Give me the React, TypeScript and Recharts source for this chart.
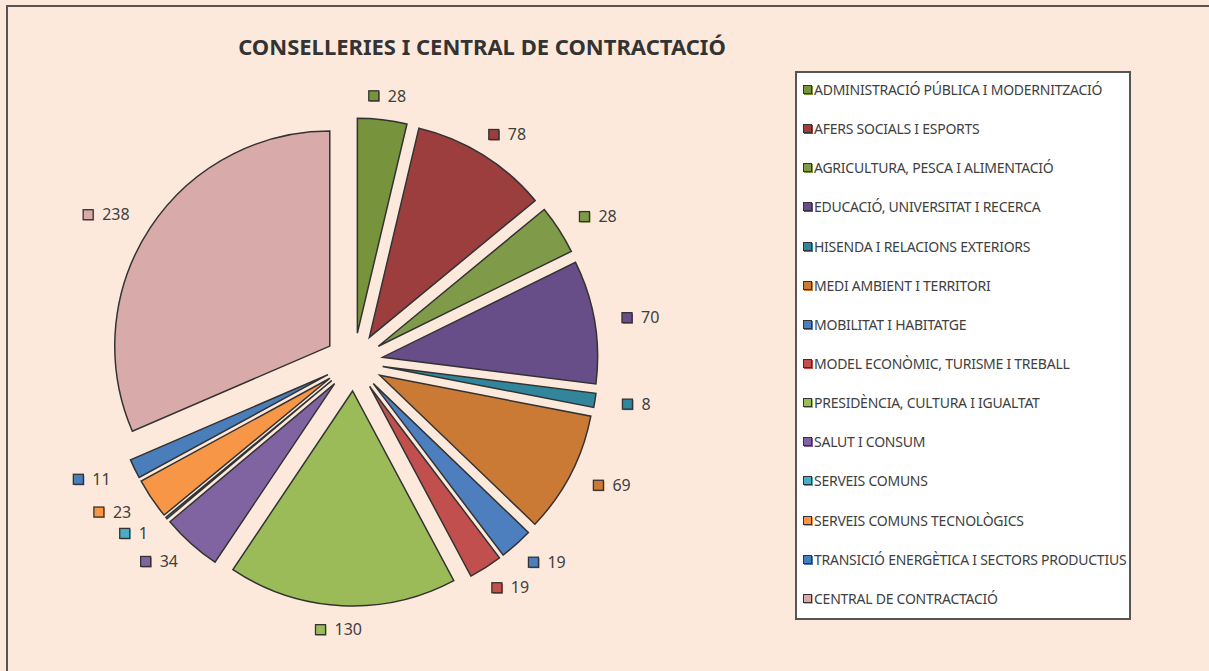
import { PieChart, Pie, Sector, Legend } from 'recharts';

const categories = [
  'ADMINISTRACIÓ PÚBLICA I MODERNITZACIÓ',
  'AFERS SOCIALS I ESPORTS',
  'AGRICULTURA, PESCA I ALIMENTACIÓ',
  'EDUCACIÓ, UNIVERSITAT I RECERCA',
  'HISENDA I RELACIONS EXTERIORS',
  'MEDI AMBIENT I TERRITORI',
  'MOBILITAT I HABITATGE',
  'MODEL ECONÒMIC, TURISME I TREBALL',
  'PRESIDÈNCIA, CULTURA I IGUALTAT',
  'SALUT I CONSUM',
  'SERVEIS COMUNS',
  'SERVEIS COMUNS TECNOLÒGICS',
  'TRANSICIÓ ENERGÈTICA I SECTORS PRODUCTIUS',
  'CENTRAL DE CONTRACTACIÓ',
];

const values = [28, 78, 28, 70, 8, 69, 19, 19, 130, 34, 1, 23, 11, 238];

const COLORS = [
  '#77933c', // administració
  '#9c3e3e', // afers socials
  '#7f9a48', // agricultura
  '#674e88', // educació
  '#32869c', // hisenda
  '#cb7a35', // medi ambient
  '#4d7fbf', // mobilitat
  '#c14f4d', // model econòmic
  '#9bbb59', // presidència
  '#8064a2', // salut
  '#4bacc6', // serveis comuns
  '#f79646', // serveis comuns tec.
  '#4a7ebb', // transició
  '#d9aaaa', // central
];

const data = categories.map((name, i) => ({ name, value: values[i] }));

const RAD = Math.PI / 180;
const EXPLODE = 29;
const TEXT = '#404040';
const FONT = '"Noto Sans", "Open Sans", sans-serif';

function ExplodedSector(props: any) {
  const { cx, cy, midAngle, index } = props;
  const dx = EXPLODE * Math.cos(midAngle * RAD);
  const dy = -EXPLODE * Math.sin(midAngle * RAD);
  return (
    <Sector
      {...props}
      cx={cx + dx}
      cy={cy + dy}
      fill={COLORS[index]}
      stroke="#333"
      strokeWidth={1.5}
    />
  );
}

function renderLabel(props: any) {
  const { cx, cy, midAngle, value, index } = props;
  const ux = Math.cos(midAngle * RAD);
  const uy = -Math.sin(midAngle * RAD);
  const px = cx + 272 * ux;
  const py = cy + 264 * uy;
  const textW = String(value).length * 9.5;
  const w = 10 + 9 + textW;
  const left = px - (w * (1 - ux)) / 2;
  const midY = py + uy * 4;
  return (
    <g key={`lbl-${index}`}>
      <rect x={left + 1} y={midY - 4} width={10} height={10} fill={COLORS[index]} />
      <rect x={left} y={midY - 5} width={10} height={10} fill={COLORS[index]} stroke="#333" strokeWidth={1.3} />
      <text x={left + 19} y={midY} dy="0.36em" fontSize={16} fill={TEXT} fontFamily={FONT}>
        {value}
      </text>
    </g>
  );
}

function LegendBox() {
  return (
    <div
      style={{
        width: 336,
        height: 549,
        background: '#fff',
        border: '2px solid #555',
        boxSizing: 'border-box',
        fontFamily: FONT,
        position: 'relative',
      }}
    >
      <div style={{ position: 'absolute', left: 0, top: -3 }}>
        {data.map((d, i) => (
          <div
            key={d.name}
            style={{ display: 'flex', alignItems: 'center', height: 39.15, paddingLeft: 6 }}
          >
            <span
              style={{
                width: 7,
                height: 7,
                background: COLORS[i],
                border: '1.3px solid #333',
                boxShadow: `1px 1px 0 ${COLORS[i]}`,
                marginRight: 2,
                flex: 'none',
              }}
            />
            <span style={{ fontSize: 14, color: TEXT, letterSpacing: -0.25, whiteSpace: 'nowrap' }}>
              {d.name}
            </span>
          </div>
        ))}
      </div>
    </div>
  );
}

export default function App() {
  return (
    <div
      style={{
        position: 'absolute',
        left: 0,
        top: 0,
        width: 1209,
        height: 671,
        background: '#fde9db',
        overflow: 'hidden',
      }}
    >
      <div
        style={{
          position: 'absolute',
          left: 6,
          top: 5,
          width: 1260,
          height: 720,
          border: '2px solid #555',
        }}
      />
      <div
        style={{
          position: 'absolute',
          left: 0,
          top: 31,
          width: 964,
          textAlign: 'center',
          fontFamily: FONT,
          fontWeight: 700,
          fontSize: 22,
          color: '#333',
        }}
      >
        CONSELLERIES I CENTRAL DE CONTRACTACIÓ
      </div>
      <div style={{ position: 'absolute', left: 0, top: 0 }}>
        <PieChart width={1209} height={671} margin={{ top: 0, right: 0, bottom: 0, left: 0 }}>
          <Pie
            data={data}
            dataKey="value"
            nameKey="name"
            cx={354}
            cy={362}
            outerRadius={215}
            startAngle={90}
            endAngle={-270}
            paddingAngle={0}
            shape={ExplodedSector}
            label={renderLabel}
            labelLine={false}
            isAnimationActive={false}
          />
          <Legend
            content={() => <LegendBox />}
            wrapperStyle={{ left: 795, top: 71, width: 336, position: 'absolute' }}
          />
        </PieChart>
      </div>
    </div>
  );
}
